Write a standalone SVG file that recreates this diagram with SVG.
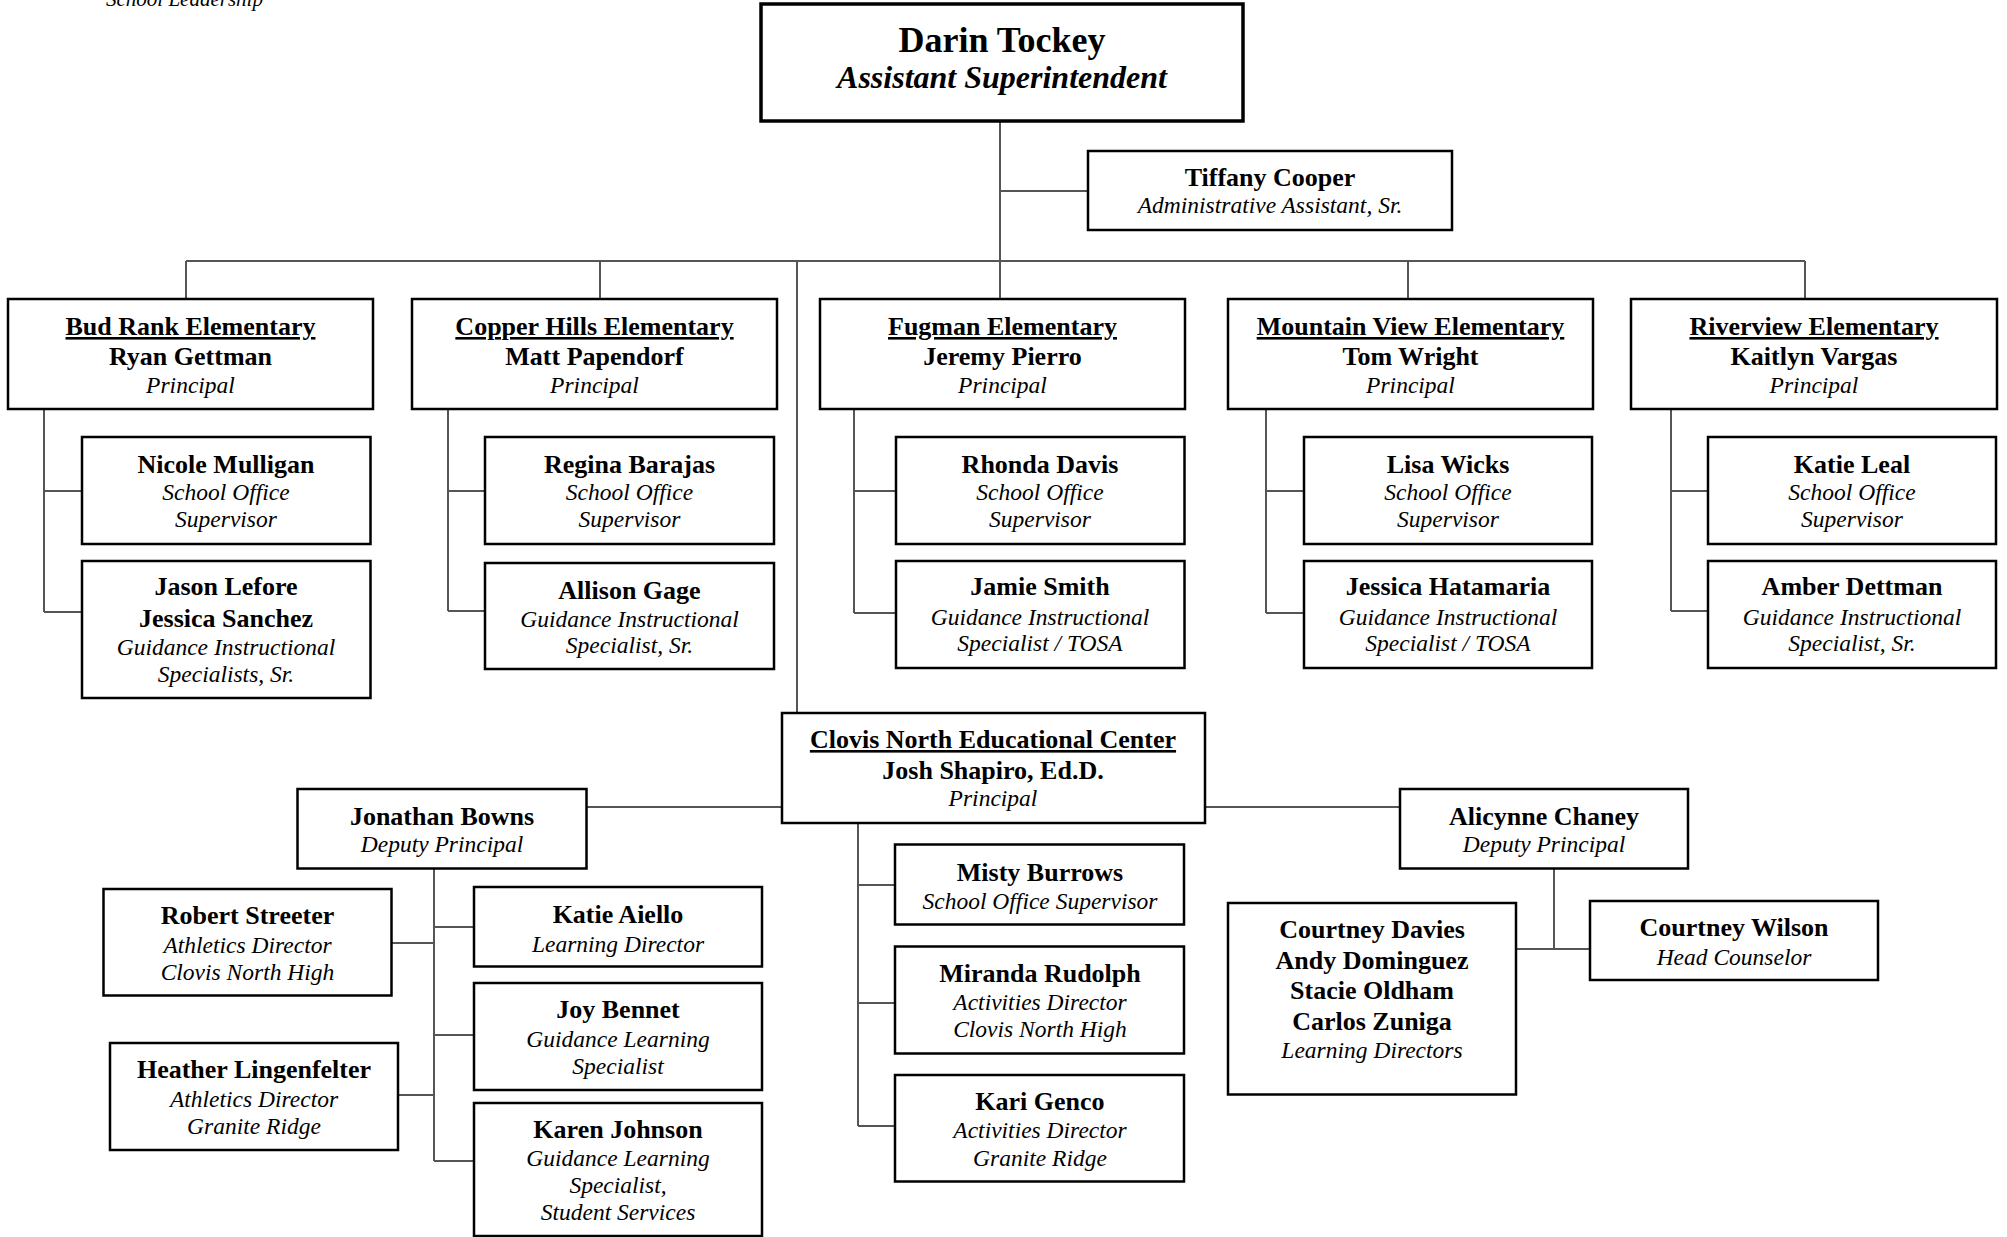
<svg xmlns="http://www.w3.org/2000/svg" width="2007" height="1237" viewBox="0 0 2007 1237">
<style>
.box{fill:#fff;stroke:#000;stroke-width:2.5}
.top{fill:#fff;stroke:#000;stroke-width:3.5}
.c{fill:none;stroke:#555;stroke-width:2}
text{font-family:"Liberation Serif","Times New Roman",serif;fill:#000;text-anchor:middle}
.b{font-weight:bold;font-size:26px}
.i{font-style:italic;font-size:23.5px}
.u{text-decoration:underline}
</style>
<rect width="2007" height="1237" fill="#fff"/>
<text x="106" y="6" style="text-anchor:start;font-style:italic;font-size:21px">School Leadership</text>
<g id="connectors">
<path class="c" d="M1000,121V299 M1000,191H1088 M186,261H1805 M186,261V299 M600,261V299 M1408,261V299 M1805,261V299 M797,261V713"/>
<path class="c" d="M44,409V612 M44,491H82 M44,612H82"/>
<path class="c" d="M448,409V611 M448,491H485 M448,611H485"/>
<path class="c" d="M854,409V613 M854,491H896 M854,613H896"/>
<path class="c" d="M1266,409V613 M1266,491H1304 M1266,613H1304"/>
<path class="c" d="M1671,409V611 M1671,491H1708 M1671,611H1708"/>
<path class="c" d="M587,807H782 M1205,807H1400"/>
<path class="c" d="M858,823V1126 M858,885H895 M858,1003H895 M858,1126H895"/>
<path class="c" d="M434,868V1161 M434,927H474 M434,1035H474 M434,1161H474 M392,943H434 M398,1095H434"/>
<path class="c" d="M1554,868V949 M1516,949H1590"/>
</g>
<g id="darin">
<rect class="top" x="761" y="4" width="482" height="117"/>
<text class="b" x="1002" y="52" style="font-size:36px">Darin Tockey</text>
<text x="1002" y="88" style="font-weight:bold;font-style:italic;font-size:32px">Assistant Superintendent</text>
</g>
<g id="tiffany">
<rect class="box" x="1088" y="151" width="364" height="79"/>
<text class="b" x="1270" y="186">Tiffany Cooper</text>
<text class="i" x="1270" y="213">Administrative Assistant, Sr.</text>
</g>
<g id="budrank">
<rect class="box" x="8" y="299" width="365" height="110"/>
<text class="b u" x="190.5" y="335">Bud Rank Elementary</text>
<text class="b" x="190.5" y="365">Ryan Gettman</text>
<text class="i" x="190.5" y="393">Principal</text>
</g>
<g id="copperhills">
<rect class="box" x="412" y="299" width="365" height="110"/>
<text class="b u" x="594.5" y="335">Copper Hills Elementary</text>
<text class="b" x="594.5" y="365">Matt Papendorf</text>
<text class="i" x="594.5" y="393">Principal</text>
</g>
<g id="fugman">
<rect class="box" x="820" y="299" width="365" height="110"/>
<text class="b u" x="1002.5" y="335">Fugman Elementary</text>
<text class="b" x="1002.5" y="365">Jeremy Pierro</text>
<text class="i" x="1002.5" y="393">Principal</text>
</g>
<g id="mountainview">
<rect class="box" x="1228" y="299" width="365" height="110"/>
<text class="b u" x="1410.5" y="335">Mountain View Elementary</text>
<text class="b" x="1410.5" y="365">Tom Wright</text>
<text class="i" x="1410.5" y="393">Principal</text>
</g>
<g id="riverview">
<rect class="box" x="1631" y="299" width="366" height="110"/>
<text class="b u" x="1814" y="335">Riverview Elementary</text>
<text class="b" x="1814" y="365">Kaitlyn Vargas</text>
<text class="i" x="1814" y="393">Principal</text>
</g>
<g id="nicole">
<rect class="box" x="82" y="437" width="288.5" height="107"/>
<text class="b" x="226" y="473">Nicole Mulligan</text>
<text class="i" x="226" y="500">School Office</text>
<text class="i" x="226" y="527">Supervisor</text>
</g>
<g id="jason">
<rect class="box" x="82" y="561" width="288.5" height="137"/>
<text class="b" x="226" y="595">Jason Lefore</text>
<text class="b" x="226" y="627">Jessica Sanchez</text>
<text class="i" x="226" y="655">Guidance Instructional</text>
<text class="i" x="226" y="682">Specialists, Sr.</text>
</g>
<g id="regina">
<rect class="box" x="485" y="437" width="289" height="107"/>
<text class="b" x="629.5" y="473">Regina Barajas</text>
<text class="i" x="629.5" y="500">School Office</text>
<text class="i" x="629.5" y="527">Supervisor</text>
</g>
<g id="allison">
<rect class="box" x="485" y="563" width="289" height="106"/>
<text class="b" x="629.5" y="599">Allison Gage</text>
<text class="i" x="629.5" y="627">Guidance Instructional</text>
<text class="i" x="629.5" y="653">Specialist, Sr.</text>
</g>
<g id="rhonda">
<rect class="box" x="896" y="437" width="288.5" height="107"/>
<text class="b" x="1040" y="473">Rhonda Davis</text>
<text class="i" x="1040" y="500">School Office</text>
<text class="i" x="1040" y="527">Supervisor</text>
</g>
<g id="jamie">
<rect class="box" x="896" y="561" width="288.5" height="107"/>
<text class="b" x="1040" y="595">Jamie Smith</text>
<text class="i" x="1040" y="625">Guidance Instructional</text>
<text class="i" x="1040" y="651">Specialist / TOSA</text>
</g>
<g id="lisa">
<rect class="box" x="1304" y="437" width="288" height="107"/>
<text class="b" x="1448" y="473">Lisa Wicks</text>
<text class="i" x="1448" y="500">School Office</text>
<text class="i" x="1448" y="527">Supervisor</text>
</g>
<g id="jessicah">
<rect class="box" x="1304" y="561" width="288" height="107"/>
<text class="b" x="1448" y="595">Jessica Hatamaria</text>
<text class="i" x="1448" y="625">Guidance Instructional</text>
<text class="i" x="1448" y="651">Specialist / TOSA</text>
</g>
<g id="katieleal">
<rect class="box" x="1708" y="437" width="288" height="107"/>
<text class="b" x="1852" y="473">Katie Leal</text>
<text class="i" x="1852" y="500">School Office</text>
<text class="i" x="1852" y="527">Supervisor</text>
</g>
<g id="amber">
<rect class="box" x="1708" y="561" width="288" height="107"/>
<text class="b" x="1852" y="595">Amber Dettman</text>
<text class="i" x="1852" y="625">Guidance Instructional</text>
<text class="i" x="1852" y="651">Specialist, Sr.</text>
</g>
<g id="clovis">
<rect class="box" x="782" y="713" width="423" height="110"/>
<text class="b u" x="993" y="748">Clovis North Educational Center</text>
<text class="b" x="993" y="779">Josh Shapiro, Ed.D.</text>
<text class="i" x="993" y="806">Principal</text>
</g>
<g id="bowns">
<rect class="box" x="297.5" y="789" width="289" height="79.5"/>
<text class="b" x="442" y="825">Jonathan Bowns</text>
<text class="i" x="442" y="852">Deputy Principal</text>
</g>
<g id="chaney">
<rect class="box" x="1400" y="789" width="288" height="79.5"/>
<text class="b" x="1544" y="825">Alicynne Chaney</text>
<text class="i" x="1544" y="852">Deputy Principal</text>
</g>
<g id="streeter">
<rect class="box" x="103.5" y="889" width="288" height="106.5"/>
<text class="b" x="247.5" y="924">Robert Streeter</text>
<text class="i" x="247.5" y="953">Athletics Director</text>
<text class="i" x="247.5" y="980">Clovis North High</text>
</g>
<g id="lingenfelter">
<rect class="box" x="110" y="1043" width="288" height="107"/>
<text class="b" x="254" y="1078">Heather Lingenfelter</text>
<text class="i" x="254" y="1107">Athletics Director</text>
<text class="i" x="254" y="1134">Granite Ridge</text>
</g>
<g id="aiello">
<rect class="box" x="474" y="887" width="288" height="79.5"/>
<text class="b" x="618" y="923">Katie Aiello</text>
<text class="i" x="618" y="952">Learning Director</text>
</g>
<g id="bennet">
<rect class="box" x="474" y="983" width="288" height="107"/>
<text class="b" x="618" y="1018">Joy Bennet</text>
<text class="i" x="618" y="1047">Guidance Learning</text>
<text class="i" x="618" y="1074">Specialist</text>
</g>
<g id="johnson">
<rect class="box" x="474" y="1103" width="288" height="133"/>
<text class="b" x="618" y="1138">Karen Johnson</text>
<text class="i" x="618" y="1166">Guidance Learning</text>
<text class="i" x="618" y="1193">Specialist,</text>
<text class="i" x="618" y="1220">Student Services</text>
</g>
<g id="burrows">
<rect class="box" x="895" y="844.5" width="289" height="80"/>
<text class="b" x="1040" y="881">Misty Burrows</text>
<text class="i" x="1040" y="909">School Office Supervisor</text>
</g>
<g id="rudolph">
<rect class="box" x="895" y="946.5" width="289" height="107"/>
<text class="b" x="1040" y="982">Miranda Rudolph</text>
<text class="i" x="1040" y="1010">Activities Director</text>
<text class="i" x="1040" y="1037">Clovis North High</text>
</g>
<g id="genco">
<rect class="box" x="895" y="1075" width="289" height="106.5"/>
<text class="b" x="1040" y="1110">Kari Genco</text>
<text class="i" x="1040" y="1138">Activities Director</text>
<text class="i" x="1040" y="1166">Granite Ridge</text>
</g>
<g id="learningdirectors">
<rect class="box" x="1228" y="903" width="288" height="191.5"/>
<text class="b" x="1372" y="938">Courtney Davies</text>
<text class="b" x="1372" y="969">Andy Dominguez</text>
<text class="b" x="1372" y="999">Stacie Oldham</text>
<text class="b" x="1372" y="1030">Carlos Zuniga</text>
<text class="i" x="1372" y="1058">Learning Directors</text>
</g>
<g id="wilson">
<rect class="box" x="1590" y="901" width="288" height="79"/>
<text class="b" x="1734" y="936">Courtney Wilson</text>
<text class="i" x="1734" y="965">Head Counselor</text>
</g>
</svg>
